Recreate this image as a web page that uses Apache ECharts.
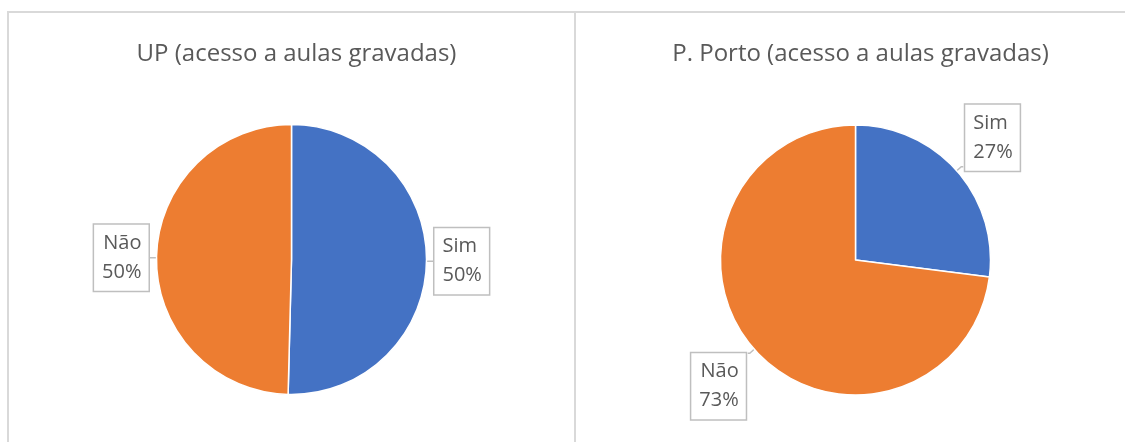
<!DOCTYPE html>
<html>
<head>
<meta charset="utf-8">
<script src="https://cdn.jsdelivr.net/npm/echarts@6/dist/echarts.min.js"></script>
<style>
  * { margin: 0; padding: 0; }
  body { width: 1125px; height: 442px; background: #ffffff; overflow: hidden; position: relative; }
  #boxLeft { position: absolute; left: 7px; top: 11px; width: 565px; height: 440px; border-left: 2px solid #d9d9d9; border-top: 2px solid #d9d9d9; border-right: 2px solid #d9d9d9; }
  #boxRight { position: absolute; left: 576px; top: 11px; width: 549px; height: 440px; border-top: 2px solid #d9d9d9; }
  .chart { width: 100%; height: 100%; }
</style>
</head>
<body>
<div id="boxLeft"><div id="chartUP" class="chart"></div></div>
<div id="boxRight"><div id="chartPorto" class="chart"></div></div>
<script>
// data
const categories = ['Sim', 'Não']
const upValues = [50.4, 49.6]
const portoValues = [27, 73]
const titles = ['UP (acesso a aulas gravadas)', 'P. Porto (acesso a aulas gravadas)']
const colors = ['#4472C4', '#ED7D31']

function pieOption (title, values, center, labelShift) {
  return {
    animation: false,
    title: {
      text: title,
      left: center[0],
      top: 24,
      textAlign: 'center',
      textStyle: { fontFamily: 'Open Sans', fontSize: 24, fontWeight: 'normal', color: '#595959' }
    },
    series: [{
      type: 'pie',
      center: center,
      radius: 135,
      startAngle: 90,
      clockwise: true,
      percentPrecision: 0,
      data: categories.map((c, i) => ({ name: c, value: values[i], itemStyle: { color: colors[i] } })),
      itemStyle: { borderColor: '#ffffff', borderWidth: 1.5 },
      label: {
        show: true,
        position: 'outside',
        formatter: '{b}\n{d}%',
        fontFamily: 'Open Sans',
        fontSize: 20,
        lineHeight: 29,
        color: '#595959',
        backgroundColor: '#ffffff',
        borderColor: '#bfbfbf',
        borderWidth: 1.5,
        padding: [5, 7, 3, 8],
        distanceToLabelLine: 0
      },
      labelLine: {
        show: true,
        length: 6,
        length2: 2,
        lineStyle: { color: '#bfbfbf', width: 1.5 }
      },
      labelLayout: labelShift ? function (p) { return labelShift[p.dataIndex] } : undefined
    }]
  }
}

const chartUP = echarts.init(document.getElementById('chartUP'))
chartUP.setOption(pieOption(titles[0], upValues, [282.5, 246.5]))

const chartPorto = echarts.init(document.getElementById('chartPorto'))
chartPorto.setOption(pieOption(titles[1], portoValues, [279.5, 247],
  [{ dx: 2, dy: -29 }, { dx: -2, dy: 33 }]))
</script>
</body>
</html>
